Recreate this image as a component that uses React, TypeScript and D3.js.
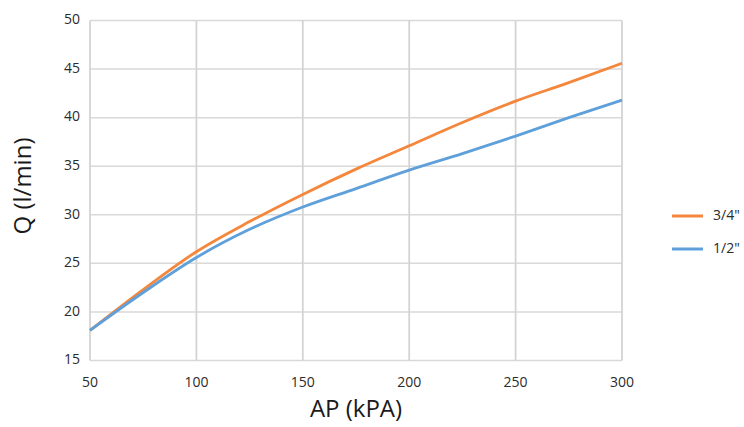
import * as d3 from 'd3';
import React from 'react';

const WIDTH = 744;
const HEIGHT = 427;
const MARGIN = { top: 20.5, right: 122, bottom: 66.5, left: 90 };

const pressure = [50, 75, 100, 125, 150, 175, 200, 225, 250, 275, 300];
const flowThreeQuarter = [18.1, 22.3, 26.2, 29.3, 32.1, 34.7, 37.1, 39.5, 41.7, 43.6, 45.6];
const flowHalf = [18.1, 22.0, 25.6, 28.5, 30.8, 32.7, 34.6, 36.3, 38.1, 40.0, 41.8];

const xTicks = [50, 100, 150, 200, 250, 300];
const yTicks = [15, 20, 25, 30, 35, 40, 45, 50];

const series = [
  { name: '3/4"', values: flowThreeQuarter, color: '#F4873B' },
  { name: '1/2"', values: flowHalf, color: '#5FA0DA' },
];

const FONT = '"Open Sans", "Noto Sans", sans-serif';

export default function App() {
  const boundsWidth = WIDTH - MARGIN.left - MARGIN.right;
  const boundsHeight = HEIGHT - MARGIN.top - MARGIN.bottom;

  const xScale = d3.scaleLinear().domain([50, 300]).range([0, boundsWidth]);
  const yScale = d3.scaleLinear().domain([15, 50]).range([boundsHeight, 0]);

  const line = d3
    .line<number>()
    .x((_, i) => xScale(pressure[i]))
    .y(d => yScale(d))
    .curve(d3.curveMonotoneX);

  return (
    <svg
      width={WIDTH}
      height={HEIGHT}
      style={{ position: 'absolute', left: 0, top: 0, background: '#fff' }}
      fontFamily={FONT}
    >
      <g transform={`translate(${MARGIN.left},${MARGIN.top})`}>
        {/* grid */}
        {yTicks.map(t => (
          <line
            key={'y' + t}
            x1={0}
            x2={boundsWidth}
            y1={yScale(t)}
            y2={yScale(t)}
            stroke="#d9d9d9"
            strokeWidth={1.5}
          />
        ))}
        {xTicks.map(t => (
          <line
            key={'x' + t}
            x1={xScale(t)}
            x2={xScale(t)}
            y1={0}
            y2={boundsHeight}
            stroke="#d4d4d4"
            strokeWidth={1.8}
          />
        ))}

        {/* tick labels */}
        {yTicks.map(t => (
          <text
            key={'yl' + t}
            x={-10}
            y={yScale(t)}
            textAnchor="end"
            dominantBaseline="middle"
            fontSize={14}
            fill="#2b2b2b"
          >
            {t}
          </text>
        ))}
        {xTicks.map(t => (
          <text
            key={'xl' + t}
            x={xScale(t)}
            y={boundsHeight + 23}
            textAnchor="middle"
            dominantBaseline="middle"
            fontSize={14}
            fill="#2b2b2b"
          >
            {t}
          </text>
        ))}

        {/* lines */}
        {series.map(s => (
          <path
            key={s.name}
            d={line(s.values) ?? undefined}
            fill="none"
            stroke={s.color}
            strokeWidth={2.8}
          />
        ))}
      </g>

      {/* axis titles */}
      <text
        x={MARGIN.left + boundsWidth / 2}
        y={411}
        textAnchor="middle"
        dominantBaseline="middle"
        fontSize={24}
        fill="#1a1a1a"
      >
        AP (kPA)
      </text>
      <text
        transform={`translate(25,186) rotate(-90)`}
        textAnchor="middle"
        dominantBaseline="middle"
        fontSize={24}
        fill="#1a1a1a"
      >
        Q (l/min)
      </text>

      {/* legend */}
      {series.map((s, i) => (
        <g key={s.name} transform={`translate(672,${216 + i * 33})`}>
          <line x1={0} x2={31} y1={0} y2={0} stroke={s.color} strokeWidth={3} />
          <text x={41} y={0} dominantBaseline="middle" fontSize={14} fill="#2b2b2b">
            {s.name}
          </text>
        </g>
      ))}
    </svg>
  );
}
